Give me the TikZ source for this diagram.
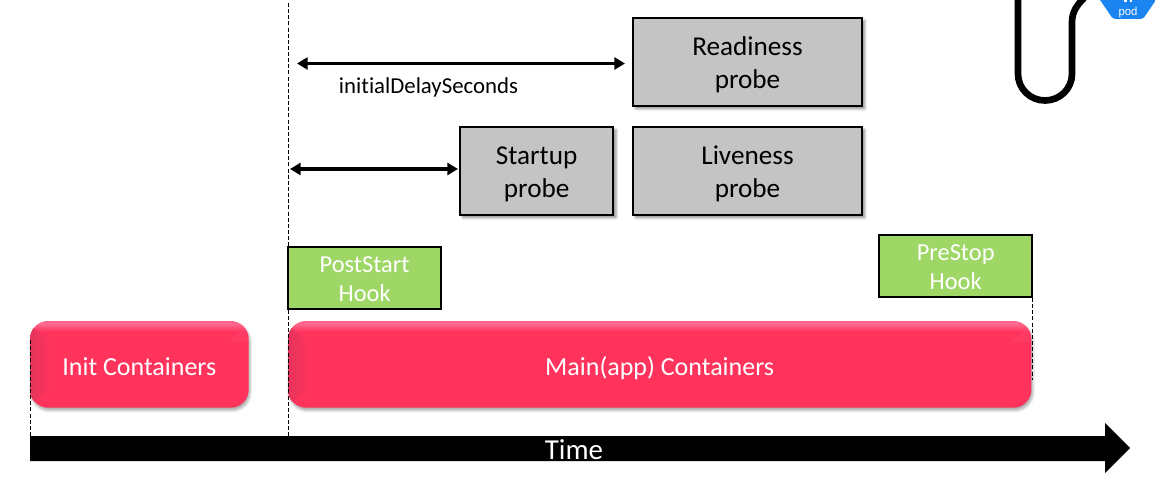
\documentclass[tikz,border=0pt]{standalone}
\usepackage{fontspec}
\setmainfont{Carlito}[Ligatures=NoCommon]
\newfontfamily\podfont{Liberation Sans}
\usetikzlibrary{shadows,shadows.blur,arrows.meta}
\definecolor{pinkmain}{HTML}{FF335C}
\definecolor{pinktop}{HTML}{FF6A90}
\definecolor{pinkbot}{HTML}{FF2F5A}
\definecolor{pinkside}{HTML}{E6345C}
\definecolor{probegray}{HTML}{C4C4C4}
\definecolor{hookgreen}{HTML}{9FD766}
\definecolor{podblue}{HTML}{1A84F0}
\pgfdeclareverticalshading{bevelpink}{100bp}{
  color(0bp)=(pinkbot); color(25bp)=(pinkbot); color(26.5bp)=(pinkmain); color(60bp)=(pinkmain);
  color(69bp)=(pinkmain); color(73.5bp)=(pinktop); color(75bp)=(pinktop!85!pinkmain); color(100bp)=(pinktop)}
\newcommand{\pinkline}{\rule[-4pt]{0pt}{25pt}}
\newcommand{\probetop}{\rule{0pt}{20.5pt}}
\newcommand{\probebot}{\rule[-5pt]{0pt}{0pt}}
\newcommand{\hooktop}{\rule{0pt}{17.5pt}}
\newcommand{\hookbot}{\rule[-4pt]{0pt}{0pt}}
\tikzset{
  x=0.75pt,y=-0.75pt,
  probebox/.style={draw=black,line width=1.5pt,fill=probegray,anchor=north west,inner sep=0pt,outer sep=0pt,
    align=center,font=\fontsize{20.4}{24.75}\selectfont,text=black,
    blur shadow={shadow xshift=2pt,shadow yshift=-2pt,shadow blur radius=2pt,shadow opacity=45}},
  hookbox/.style={draw=black,line width=1.5pt,fill=hookgreen,anchor=north west,inner sep=0pt,outer sep=0pt,
    align=center,font=\fontsize{18.3}{21.75}\selectfont,text=white},
  pinkbox/.style={rounded corners=13.5pt,shading=bevelpink,anchor=north west,inner sep=0pt,outer sep=0pt,
    align=center,font=\fontsize{19.5}{22}\selectfont,text=white,
    blur shadow={shadow xshift=1pt,shadow yshift=-2pt,shadow blur radius=2pt,shadow opacity=35}},
  guide/.style={line width=.75pt,dash pattern=on 3pt off 1.6pt,black},
  span/.style={line width=2.6pt,{Triangle[length=8pt,width=9pt]}-{Triangle[length=8pt,width=9pt]},black},
  sideband/.style={left color=pinkside,right color=pinkmain},
  cornertint/.style={fill=pinktop,opacity=.14},
}
\begin{document}
\begin{tikzpicture}
\useasboundingbox (0,0) rectangle (1155,481);
\clip (0,0) rectangle (1155,481);
% pod icon and cable, cut off by the top edge
\draw[line width=5pt,black] (1018,-4) -- (1018,74) arc[start angle=180,end angle=0,x radius=27,y radius=26.5] -- (1072,22) .. controls (1072,12) and (1077,5) .. (1084,-2);
\fill[podblue,rounded corners=1.5pt] (1098,-3) -- (1113,19) -- (1143,19) -- (1158,-3) -- cycle;
\fill[white] (1124,-1) rectangle (1126.5,2);
\fill[white] (1129.5,-1) rectangle (1132,2);
\node[text=white,inner sep=0pt,font=\fontsize{8.5}{8.5}\podfont] (podlabel) at (1128,12.5) {pod};
% boxes
\node[pinkbox,minimum width=164pt,minimum height=65pt] (init) at (30,321) {\pinkline Init Containers};
\node[pinkbox,minimum width=557.5pt,minimum height=65pt] (main) at (288,321) {\pinkline Main(app) Containers};
\begin{scope}
\clip[rounded corners=13.5pt] (30,321) rectangle (249,408);
\shade[sideband] (30,325) -- (52,343) -- (52,388) -- (30,405) -- cycle;
\fill[cornertint] (249,324) -- (229,342) -- (249,342) -- cycle;
\end{scope}
\begin{scope}
\clip[rounded corners=13.5pt] (288,321) rectangle (1031,408);
\shade[sideband] (288,325) -- (310,343) -- (310,388) -- (288,405) -- cycle;
\fill[cornertint] (1031,324) -- (1011,342) -- (1031,342) -- cycle;
\end{scope}
\node[probebox,minimum width=171.75pt,minimum height=66pt] (readiness) at (633,18) {\probetop Readiness\\probe\probebot};
\node[probebox,minimum width=171.75pt,minimum height=66pt] (liveness) at (633,127) {\probetop Liveness\\probe\probebot};
\node[probebox,minimum width=115pt,minimum height=66pt] (startup) at (460,127) {\probetop Startup\\probe\probebot};
\node[hookbox,minimum width=115pt,minimum height=46.75pt] (poststart) at (288,247) {\hooktop PostStart\\Hook\hookbot};
\node[hookbox,minimum width=115pt,minimum height=46.75pt] (prestop) at (879,235) {\hooktop PreStop\\Hook\hookbot};
% guides
\coordinate (g1top) at (288,3);
\coordinate (g1bot) at (288,436);
\coordinate (g2top) at (30,340);
\coordinate (g2bot) at (30,436);
\coordinate (g3top) at (1032,298);
\coordinate (g3bot) at (1032,380);
\draw[guide] (g1top) -- (g1bot);
\draw[guide] (g2top) -- (g2bot);
\draw[guide] (g3top) -- (g3bot);
% spans
\coordinate (s1) at (297,63.5);
\coordinate (s2) at (625,63.5);
\coordinate (s3) at (290,169);
\draw[span] (s1) -- (s2);
\draw[span] (s3) -- ([xshift=-1.5pt]startup.west |- s3);
\node[inner sep=0pt,font=\fontsize{17.1}{20}\selectfont,text=black] (delay) at (428.5,87) {initialDelaySeconds};
% time arrow
\fill[black] (30,436) -- (1105,436) -- (1105,423) -- (1130,448) -- (1105,473) -- (1105,461) -- (30,461) -- cycle;
\node[text=white,inner sep=0pt,font=\fontsize{21.7}{24}\selectfont] (time) at (574,450) {Time};
\end{tikzpicture}
\end{document}
